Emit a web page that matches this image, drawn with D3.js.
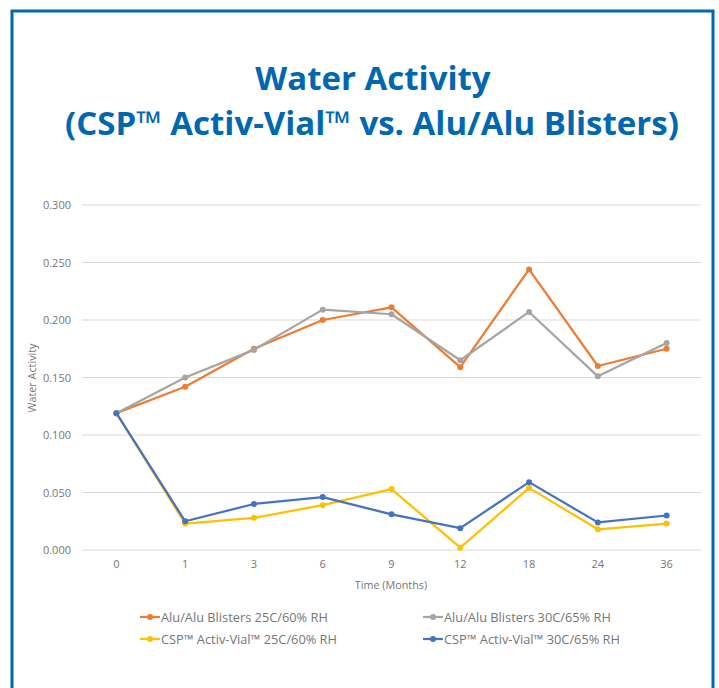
<!DOCTYPE html>
<html lang="en">
<head><meta charset="utf-8"/>
<style>
body { margin:0; background:#fff; }
.grid line { stroke:#d9d9d9; stroke-width:1; }
.tick text { fill:#767676; font-family:"Open Sans", sans-serif; font-size:11px; }
.line { fill:none; stroke-width:2.25px; stroke-linejoin:round; }
.lbl { fill:#767676; font-family:"Open Sans", sans-serif; font-size:10.8px; }
.leg { fill:#767676; font-family:"Open Sans", sans-serif; font-size:12.8px; }
.title { fill:#0067b1; font-family:"Open Sans", sans-serif; font-weight:bold; font-size:33px; }
</style>
</head>
<body>
<svg width="719" height="688" id="chart"></svg>
<script src="https://cdn.jsdelivr.net/npm/d3@7"></script>
<script>

var months = ["0","1","3","6","9","12","18","24","36"];
var yTicks = [0, 0.05, 0.10, 0.15, 0.20, 0.25, 0.30];

var aluBlister25 = [0.119, 0.142, 0.175, 0.200, 0.211, 0.159, 0.244, 0.160, 0.175];
var aluBlister30 = [0.119, 0.150, 0.174, 0.209, 0.205, 0.165, 0.207, 0.151, 0.180];
var activVial25  = [0.119, 0.023, 0.028, 0.039, 0.053, 0.002, 0.054, 0.018, 0.023];
var activVial30  = [0.119, 0.025, 0.040, 0.046, 0.031, 0.019, 0.059, 0.024, 0.030];

var seriesNames = ["Alu/Alu Blisters 25C/60% RH", "Alu/Alu Blisters 30C/65% RH",
	"CSP\u2122 Activ-Vial\u2122 25C/60% RH", "CSP\u2122 Activ-Vial\u2122 30C/65% RH"];
var seriesColors = ["#ed7d31", "#a5a5a5", "#ffc000", "#4472c4"];

var series = [aluBlister25, aluBlister30, activVial25, activVial30].map((v, i) => ({
	name: seriesNames[i], color: seriesColors[i], values: v
}));

var svg = d3.select("#chart");

// outer frame
svg.append("rect")
	.attr("x", 12).attr("y", 11).attr("width", 701).attr("height", 700)
	.attr("fill", "none").attr("stroke", "#0067b1").attr("stroke-width", 3);

svg.append("text").attr("class", "title")
	.attr("x", 373).attr("y", 90).attr("text-anchor", "middle")
	.text("Water Activity");
svg.append("text").attr("class", "title")
	.attr("x", 372).attr("y", 135).attr("text-anchor", "middle")
	.text("(CSP\u2122 Activ-Vial\u2122 vs. Alu/Alu Blisters)");

var x = d3.scaleBand().domain(months).range([82, 701]),
    y = d3.scaleLinear().domain([0, 0.3]).range([550, 205]);

var cx = d => x(d) + x.bandwidth() / 2;

var grid = svg.append("g").attr("class", "grid");
grid.selectAll("line").data(yTicks).enter().append("line")
	.attr("x1", 82).attr("x2", 701)
	.attr("y1", d => y(d)).attr("y2", d => y(d));

var axisY = svg.append("g")
	.attr("transform", "translate(71,0)")
	.call(d3.axisLeft(y).tickValues(yTicks).tickFormat(d3.format(".3f")).tickSize(0).tickPadding(0));
axisY.select(".domain").remove();

var axisX = svg.append("g")
	.attr("transform", "translate(0,556)")
	.call(d3.axisBottom(x).tickSize(0).tickPadding(4));
axisX.select(".domain").remove();

svg.append("text").attr("class", "lbl")
	.attr("x", 391).attr("y", 589).attr("text-anchor", "middle")
	.text("Time (Months)");
svg.append("text").attr("class", "lbl")
	.attr("transform", "translate(36,378) rotate(-90)")
	.attr("text-anchor", "middle")
	.text("Water Activity");

var line = d3.line()
	.x((d, i) => cx(months[i]))
	.y(d => y(d));

var g = svg.append("g");
series.forEach(function(s){
	g.append("path").attr("class", "line")
		.attr("stroke", s.color).attr("d", line(s.values));
	g.selectAll(null).data(s.values).enter().append("circle")
		.attr("cx", (d, i) => cx(months[i]))
		.attr("cy", d => y(d))
		.attr("r", 3)
		.attr("fill", s.color);
});

// legend
var legPos = [[140, 617], [423, 617], [140, 639], [423, 639]];
series.forEach(function(s, i){
	var lg = svg.append("g").attr("transform", "translate(" + legPos[i][0] + "," + legPos[i][1] + ")");
	lg.append("line").attr("x1", 0).attr("x2", 20).attr("y1", 0).attr("y2", 0)
		.attr("stroke", s.color).attr("stroke-width", 2.25);
	lg.append("circle").attr("cx", 10).attr("cy", 0).attr("r", 3).attr("fill", s.color);
	lg.append("text").attr("class", "leg").attr("x", 21).attr("y", 4.5).text(s.name);
});
</script>
</body>
</html>
